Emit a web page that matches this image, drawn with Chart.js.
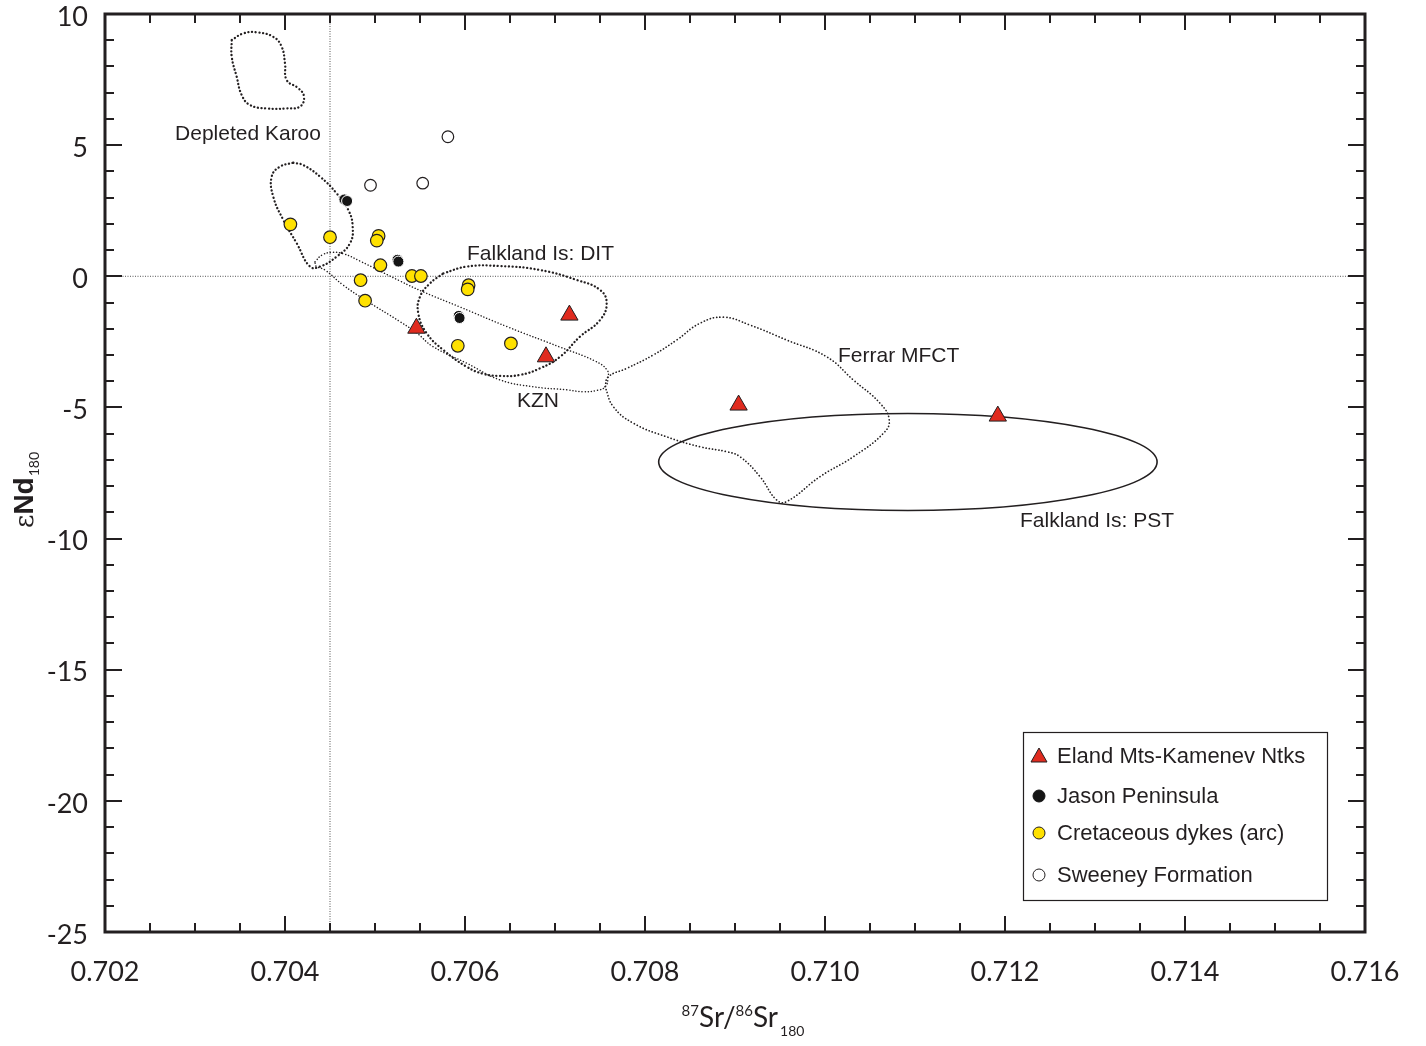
<!DOCTYPE html>
<html>
<head>
<meta charset="utf-8">
<script src="https://cdn.jsdelivr.net/npm/chart.js@4.4.1/dist/chart.umd.min.js"></script>
<style>
  html, body { margin: 0; padding: 0; background: #ffffff; }
  #wrap { width: 1426px; height: 1046px; }
</style>
</head>
<body>
<div id="wrap"><canvas id="c" width="1426" height="1046"></canvas></div>
<script>
// ---------------- data ----------------
const seriesNames = ['Eland Mts-Kamenev Ntks', 'Jason Peninsula', 'Cretaceous dykes (arc)', 'Sweeney Formation'];

const elandX = [0.70546, 0.70716, 0.70690, 0.70904, 0.71192];
const elandY = [-1.98, -1.48, -3.07, -4.91, -5.33];

const jasonX = [0.70466, 0.70469, 0.70525, 0.70526, 0.70593, 0.70594];
const jasonY = [2.93, 2.87, 0.63, 0.56, -1.51, -1.59];

const dykesX = [0.70406, 0.70450, 0.70504, 0.70502, 0.70506, 0.70484, 0.70489, 0.70541, 0.70551, 0.70604, 0.70603, 0.70592, 0.70651];
const dykesY = [1.98, 1.49, 1.54, 1.36, 0.42, -0.15, -0.93, 0.01, 0.01, -0.34, -0.50, -2.65, -2.56];

const sweeneyX = [0.70581, 0.70495, 0.70553];
const sweeneyY = [5.32, 3.47, 3.55];

// field outlines (x = 87Sr/86Sr, y = eNd)
const karooTopX = [0.703408, 0.703537, 0.703686, 0.703870, 0.703963, 0.704000, 0.704019, 0.704148, 0.704211, 0.704167, 0.704019, 0.703797, 0.703611, 0.703519, 0.703463, 0.703408];
const karooTopY = [9.01, 9.26, 9.30, 9.13, 8.75, 8.12, 7.48, 7.17, 6.85, 6.47, 6.40, 6.40, 6.53, 6.91, 7.61, 8.37];

const karooLowX = [0.704092, 0.704203, 0.704389, 0.704574, 0.704703, 0.704752, 0.704722, 0.704574, 0.704389, 0.704278, 0.704130, 0.703981, 0.703870, 0.703852, 0.703944];
const karooLowY = [4.33, 4.24, 3.80, 3.16, 2.53, 1.89, 1.26, 0.75, 0.37, 0.37, 1.26, 2.15, 3.03, 3.80, 4.18];

const kznX = [0.704333, 0.704411, 0.704522, 0.704656, 0.704833, 0.705278, 0.705533, 0.705944, 0.706467, 0.707056, 0.707444, 0.707578, 0.707589, 0.707556, 0.707467, 0.707311, 0.707133, 0.706756, 0.706389, 0.706022, 0.705644, 0.705467, 0.705278, 0.704889, 0.704644, 0.704444, 0.704344];
const kznY = [0.55, 0.81, 0.91, 0.85, 0.58, -0.18, -0.59, -1.17, -1.92, -2.70, -3.23, -3.57, -3.88, -4.22, -4.35, -4.40, -4.33, -4.21, -3.95, -3.32, -2.68, -2.17, -1.73, -0.90, -0.33, 0.24, 0.39];

const ditX = [0.705759, 0.706019, 0.706389, 0.706833, 0.707241, 0.707500, 0.707574, 0.707500, 0.707278, 0.707056, 0.706833, 0.706611, 0.706389, 0.706203, 0.706019, 0.705759, 0.705574, 0.705481, 0.705500, 0.705611];
const ditY = [0.11, 0.37, 0.39, 0.24, -0.14, -0.52, -1.03, -1.67, -2.30, -3.07, -3.51, -3.76, -3.80, -3.72, -3.45, -2.81, -2.17, -1.41, -0.78, -0.27];

const ferrarX = [0.707556, 0.707592, 0.707797, 0.708092, 0.708352, 0.708611, 0.708870, 0.709167, 0.709574, 0.710019, 0.710314, 0.710611, 0.710714, 0.710648, 0.710314, 0.709944, 0.709574, 0.709463, 0.709278, 0.709056, 0.708908, 0.708611, 0.708241, 0.707870, 0.707648];
const ferrarY = [-4.21, -3.83, -3.51, -3.00, -2.43, -1.79, -1.56, -1.86, -2.43, -3.07, -3.95, -4.84, -5.48, -5.99, -6.88, -7.64, -8.59, -8.53, -7.64, -6.88, -6.69, -6.50, -6.12, -5.60, -4.97];

// Falkland Is: PST ellipse (centre and half-axes, data units)
const pstCenter = [0.710921, -7.08];
const pstRadii = [0.002769, 1.85];

// reference lines
const refSr = 0.7045;
const refNd = 0;

// region labels
const regionLabels = ['Depleted Karoo', 'Falkland Is: DIT', 'KZN', 'Ferrar MFCT', 'Falkland Is: PST'];
const regionLabelX = [0.703589, 0.706022, 0.706811, 0.710144, 0.712167];
const regionLabelY = [5.42, 0.85, -4.75, -3.04, -9.33];
const regionLabelAlign = ['center', 'left', 'center', 'left', 'left'];

// tick labels
const xTickValues = [0.702, 0.704, 0.706, 0.708, 0.710, 0.712, 0.714, 0.716];
const yTickValues = [-25, -20, -15, -10, -5, 0, 5, 10];

// ---------------- helpers ----------------
const INK = '#231f20';
const zipPts = (xs, ys) => xs.map((x, i) => ({ x: x, y: ys[i] }));
const closeLoop = pts => pts.concat([pts[0]]);

function outline(label, xs, ys, width, gap) {
  return {
    label: label, data: closeLoop(zipPts(xs, ys)), showLine: true, pointRadius: 0,
    borderColor: INK, borderWidth: width, borderDash: [0.1, gap], borderCapStyle: 'round',
    tension: 0.45, fill: false
  };
}

const datasets = [
  { label: seriesNames[0], data: zipPts(elandX, elandY), pointStyle: 'triangle', pointRadius: 10,
    backgroundColor: '#e02b1f', borderColor: INK, borderWidth: 1 },
  { label: seriesNames[1], data: zipPts(jasonX, jasonY), pointStyle: 'circle', pointRadius: 5.5,
    backgroundColor: '#151515', borderColor: '#ffffff', borderWidth: 1 },
  { label: seriesNames[2], data: zipPts(dykesX, dykesY), pointStyle: 'circle', pointRadius: 6.3,
    backgroundColor: '#ffe100', borderColor: INK, borderWidth: 1.2 },
  { label: seriesNames[3], data: zipPts(sweeneyX, sweeneyY), pointStyle: 'circle', pointRadius: 5.8,
    backgroundColor: '#ffffff', borderColor: INK, borderWidth: 1.2 },
  outline('karooTop', karooTopX, karooTopY, 2.3, 3.6),
  outline('karooLow', karooLowX, karooLowY, 2.3, 3.6),
  outline('dit', ditX, ditY, 2.3, 3.6),
  outline('kzn', kznX, kznY, 1.5, 3),
  outline('ferrar', ferrarX, ferrarY, 1.7, 3.2),
  { label: 'refX', data: [{ x: refSr, y: -25 }, { x: refSr, y: 10 }], showLine: true, pointRadius: 0,
    borderColor: '#555', borderWidth: 1, borderDash: [1, 1.5] },
  { label: 'refY', data: [{ x: 0.702, y: refNd }, { x: 0.716, y: refNd }], showLine: true, pointRadius: 0,
    borderColor: '#555', borderWidth: 1, borderDash: [1, 1.5] }
];

// ---------------- plugins ----------------
const ellipsePlugin = {
  id: 'pstEllipse',
  beforeDatasetsDraw(chart) {
    const xs = chart.scales.x, ys = chart.scales.y, ctx = chart.ctx;
    const cx = xs.getPixelForValue(pstCenter[0]);
    const cy = ys.getPixelForValue(pstCenter[1]);
    const rx = Math.abs(xs.getPixelForValue(pstCenter[0] + pstRadii[0]) - cx);
    const ry = Math.abs(ys.getPixelForValue(pstCenter[1] + pstRadii[1]) - cy);
    ctx.save();
    ctx.beginPath();
    ctx.ellipse(cx, cy, rx, ry, 0, 0, Math.PI * 2);
    ctx.lineWidth = 1.6;
    ctx.strokeStyle = INK;
    ctx.stroke();
    ctx.restore();
  }
};

const labelsPlugin = {
  id: 'regionLabels',
  afterDatasetsDraw(chart) {
    const xs = chart.scales.x, ys = chart.scales.y, ctx = chart.ctx;
    ctx.save();
    ctx.font = '21px "Liberation Sans", Arial, sans-serif';
    ctx.fillStyle = INK;
    ctx.textBaseline = 'middle';
    regionLabels.forEach((t, i) => {
      ctx.textAlign = regionLabelAlign[i];
      ctx.fillText(t, xs.getPixelForValue(regionLabelX[i]), ys.getPixelForValue(regionLabelY[i]));
    });
    ctx.restore();
  }
};

const framePlugin = {
  id: 'frameTicks',
  afterDraw(chart) {
    const ctx = chart.ctx, ca = chart.chartArea, xs = chart.scales.x, ys = chart.scales.y;
    ctx.save();
    ctx.strokeStyle = INK;
    ctx.lineCap = 'butt';
    // ticks
    ctx.lineWidth = 2;
    for (let k = 0; k <= 28; k++) {
      const v = 0.702 + k * 0.0005;
      const px = Math.round(xs.getPixelForValue(v));
      const len = (k % 4 === 0) ? 16 : 9;
      ctx.beginPath();
      ctx.moveTo(px, ca.bottom); ctx.lineTo(px, ca.bottom - len);
      ctx.moveTo(px, ca.top); ctx.lineTo(px, ca.top + len);
      ctx.stroke();
    }
    for (let v = -25; v <= 10; v++) {
      const py = Math.round(ys.getPixelForValue(v));
      const len = (v % 5 === 0) ? 17 : 9;
      ctx.beginPath();
      ctx.moveTo(ca.left, py); ctx.lineTo(ca.left + len, py);
      ctx.moveTo(ca.right, py); ctx.lineTo(ca.right - len, py);
      ctx.stroke();
    }
    // frame
    ctx.lineWidth = 3;
    ctx.strokeRect(ca.left, ca.top, ca.right - ca.left, ca.bottom - ca.top);

    // legend
    const bw = 304, bh = 168;
    const bx = ca.right - 38 - bw, by = ca.bottom - 32 - bh;
    ctx.fillStyle = '#ffffff';
    ctx.fillRect(bx, by, bw, bh);
    ctx.lineWidth = 1.2;
    ctx.strokeRect(bx + 0.5, by + 0.5, bw, bh);
    const rows = [24, 64, 101, 143];
    ctx.font = '22px "Liberation Sans", Arial, sans-serif';
    ctx.textBaseline = 'middle';
    ctx.textAlign = 'left';
    chart.data.datasets.slice(0, 4).forEach((ds, i) => {
      const sx = bx + 16, sy = by + rows[i];
      ctx.fillStyle = ds.backgroundColor;
      ctx.strokeStyle = (i === 1) ? '#151515' : INK;
      ctx.lineWidth = 1;
      ctx.beginPath();
      if (ds.pointStyle === 'triangle') {
        ctx.moveTo(sx, sy - 8); ctx.lineTo(sx + 8, sy + 6); ctx.lineTo(sx - 8, sy + 6); ctx.closePath();
      } else {
        ctx.arc(sx, sy, 6, 0, Math.PI * 2);
      }
      ctx.fill(); ctx.stroke();
      ctx.fillStyle = INK;
      ctx.fillText(ds.label, bx + 34, sy + 1);
    });

    // x axis title: 87Sr/86Sr180
    const base = 1027;
    const big = '28px Lato, "Open Sans", sans-serif';
    const small = '15px Lato, "Open Sans", sans-serif';
    const sub = '14px Lato, "Open Sans", sans-serif';
    const parts = [
      { t: '87', f: small, dy: -11 }, { t: 'Sr/', f: big, dy: 0 },
      { t: '86', f: small, dy: -11 }, { t: 'Sr', f: big, dy: 0 },
      { t: '180', f: sub, dy: 9, pad: 2 }
    ];
    let total = 0;
    parts.forEach(p => { ctx.font = p.f; p.w = ctx.measureText(p.t).width; total += p.w + (p.pad || 0); });
    let cx = (ca.left + ca.right) / 2 + 8 - total / 2;
    ctx.fillStyle = INK;
    ctx.textBaseline = 'alphabetic';
    parts.forEach(p => { cx += (p.pad || 0); ctx.font = p.f; ctx.fillText(p.t, cx, base + p.dy); cx += p.w; });

    // y axis title: εNd180
    ctx.save();
    ctx.translate(33, 490);
    ctx.rotate(-Math.PI / 2);
    const yparts = [
      { t: '\u03b5', f: '26px "DejaVu Serif", serif', dy: 0 },
      { t: 'Nd', f: 'bold 28px "Liberation Sans", Arial, sans-serif', dy: 0 },
      { t: '180', f: '14px Lato, "Open Sans", sans-serif', dy: 6, pad: 1 }
    ];
    let tw = 0;
    yparts.forEach(p => { ctx.font = p.f; p.w = ctx.measureText(p.t).width; tw += p.w + (p.pad || 0); });
    let yx = -tw / 2;
    yparts.forEach(p => { yx += (p.pad || 0); ctx.font = p.f; ctx.fillText(p.t, yx, p.dy); yx += p.w; });
    ctx.restore();

    ctx.restore();
  }
};

// ---------------- chart ----------------
new Chart(document.getElementById('c'), {
  type: 'scatter',
  data: { datasets: datasets },
  options: {
    responsive: false,
    animation: false,
    devicePixelRatio: 1,
    layout: { padding: { left: 0, top: 14, right: 61, bottom: 0 } },
    plugins: { legend: { display: false }, tooltip: { enabled: false } },
    scales: {
      x: {
        type: 'linear', min: 0.702, max: 0.716,
        afterBuildTicks: s => { s.ticks = xTickValues.map(v => ({ value: v })); },
        afterFit: s => { s.height = 114; s.paddingLeft = 0; s.paddingRight = 0; },
        grid: { display: false, drawTicks: false },
        border: { display: false },
        ticks: {
          padding: 24, color: INK, maxRotation: 0, autoSkip: false,
          font: { family: 'Lato, "Open Sans", sans-serif', size: 27 },
          callback: v => Number(v).toFixed(3)
        }
      },
      y: {
        type: 'linear', min: -25, max: 10,
        afterBuildTicks: s => { s.ticks = yTickValues.map(v => ({ value: v })); },
        afterFit: s => { s.width = 105; s.paddingTop = 0; s.paddingBottom = 0; },
        grid: { display: false, drawTicks: false },
        border: { display: false },
        ticks: {
          padding: 17, color: INK, autoSkip: false, labelOffset: 3,
          font: { family: 'Lato, "Open Sans", sans-serif', size: 27 },
          callback: v => String(v)
        }
      }
    }
  },
  plugins: [ellipsePlugin, labelsPlugin, framePlugin]
});
</script>
</body>
</html>
